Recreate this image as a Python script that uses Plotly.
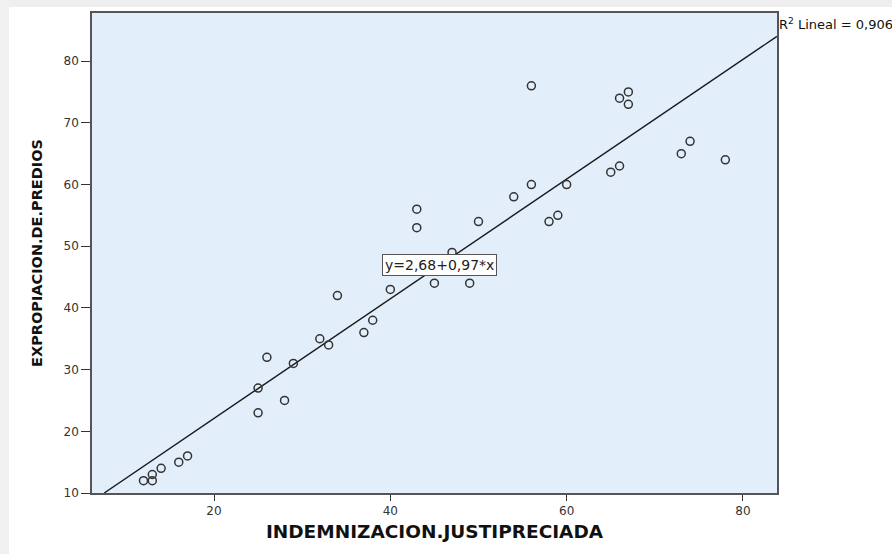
import plotly.graph_objects as go

# Paired observations (compensation vs. expropriation)
indemnizacion = [12, 13, 13, 14, 16, 17, 25, 25, 26, 28, 29, 32, 33, 34, 37, 38,
                 40, 43, 43, 45, 47, 49, 50, 54, 56, 56, 58, 59, 60, 65, 66, 66,
                 67, 67, 73, 74, 78]
expropiacion = [12, 12, 13, 14, 15, 16, 27, 23, 32, 25, 31, 35, 34, 42, 36, 38,
                43, 53, 56, 44, 49, 44, 54, 58, 76, 60, 54, 55, 60, 62, 63, 74,
                75, 73, 65, 67, 64]

# Linear fit reported on the chart
intercept = 2.68
slope = 0.97
r2 = "0,906"

x_ticks = [20, 40, 60, 80]
y_ticks = [10, 20, 30, 40, 50, 60, 70, 80]
x_range = [6.16, 83.86]
y_range = [10, 87.8]

FONT = "DejaVu Sans, Arial, sans-serif"

fig = go.Figure()

# Fit line spans the visible plot area
x_start = (y_range[0] - intercept) / slope
x_end = x_range[1]
fig.add_trace(go.Scatter(
    x=[x_start, x_end],
    y=[intercept + slope * x_start, intercept + slope * x_end],
    mode="lines",
    line=dict(color="#1a1a1a", width=1.4),
    hoverinfo="skip",
    showlegend=False,
))

fig.add_trace(go.Scatter(
    x=indemnizacion,
    y=expropiacion,
    mode="markers",
    marker=dict(symbol="circle-open", size=8, color="#333333",
                line=dict(width=1.5, color="#333333")),
    showlegend=False,
))

axis_common = dict(
    showgrid=False,
    zeroline=False,
    showline=True,
    linecolor="#555555",
    linewidth=1.5,
    mirror=True,
    ticks="outside",
    tickcolor="#333333",
    tickfont=dict(family=FONT, size=12, color="#333333"),
)

fig.update_xaxes(
    range=x_range,
    tickvals=x_ticks,
    ticklen=6,
    title=dict(text="<b>INDEMNIZACION.JUSTIPRECIADA</b>",
               font=dict(family=FONT, size=18.5, color="#111111"), standoff=8),
    **axis_common,
)
fig.update_yaxes(
    range=y_range,
    tickvals=y_ticks,
    ticklen=9,
    title=dict(text="<b>EXPROPIACION.DE.PREDIOS</b>",
               font=dict(family=FONT, size=14.5, color="#111111"), standoff=17),
    **axis_common,
)

# Equation label
fig.add_annotation(
    x=45.6, y=46.95, xref="x", yref="y",
    text=f"y={intercept:.2f}+{slope:.2f}*x".replace(".", ","),
    showarrow=False,
    font=dict(family=FONT, size=14, color="#222222"),
    bgcolor="white",
    bordercolor="#555555",
    borderwidth=1,
    borderpad=2,
)

# R-squared label outside the top-right corner
fig.add_annotation(
    x=1.0, y=0.977, xref="paper", yref="paper",
    xanchor="left", yanchor="middle",
    text=f"R<sup>2</sup> Lineal = {r2}",
    showarrow=False,
    font=dict(family=FONT, size=13, color="#111111"),
)

# Light frame strips at the top and left edges of the page
fig.add_shape(type="rect", xref="paper", yref="paper",
              x0=-0.14, x1=1.17, y0=1.0125, y1=1.03,
              fillcolor="#eeeeee", line=dict(width=0), layer="below")
fig.add_shape(type="rect", xref="paper", yref="paper",
              x0=-0.14, x1=-0.1212, y0=-0.13, y1=1.03,
              fillcolor="#f0f0f0", line=dict(width=0), layer="below")

fig.update_layout(
    width=892,
    height=554,
    margin=dict(l=92, r=115, t=13, b=61),
    paper_bgcolor="white",
    plot_bgcolor="#e2eefa",
    font=dict(family=FONT),
)

fig.write_html("out.html")
